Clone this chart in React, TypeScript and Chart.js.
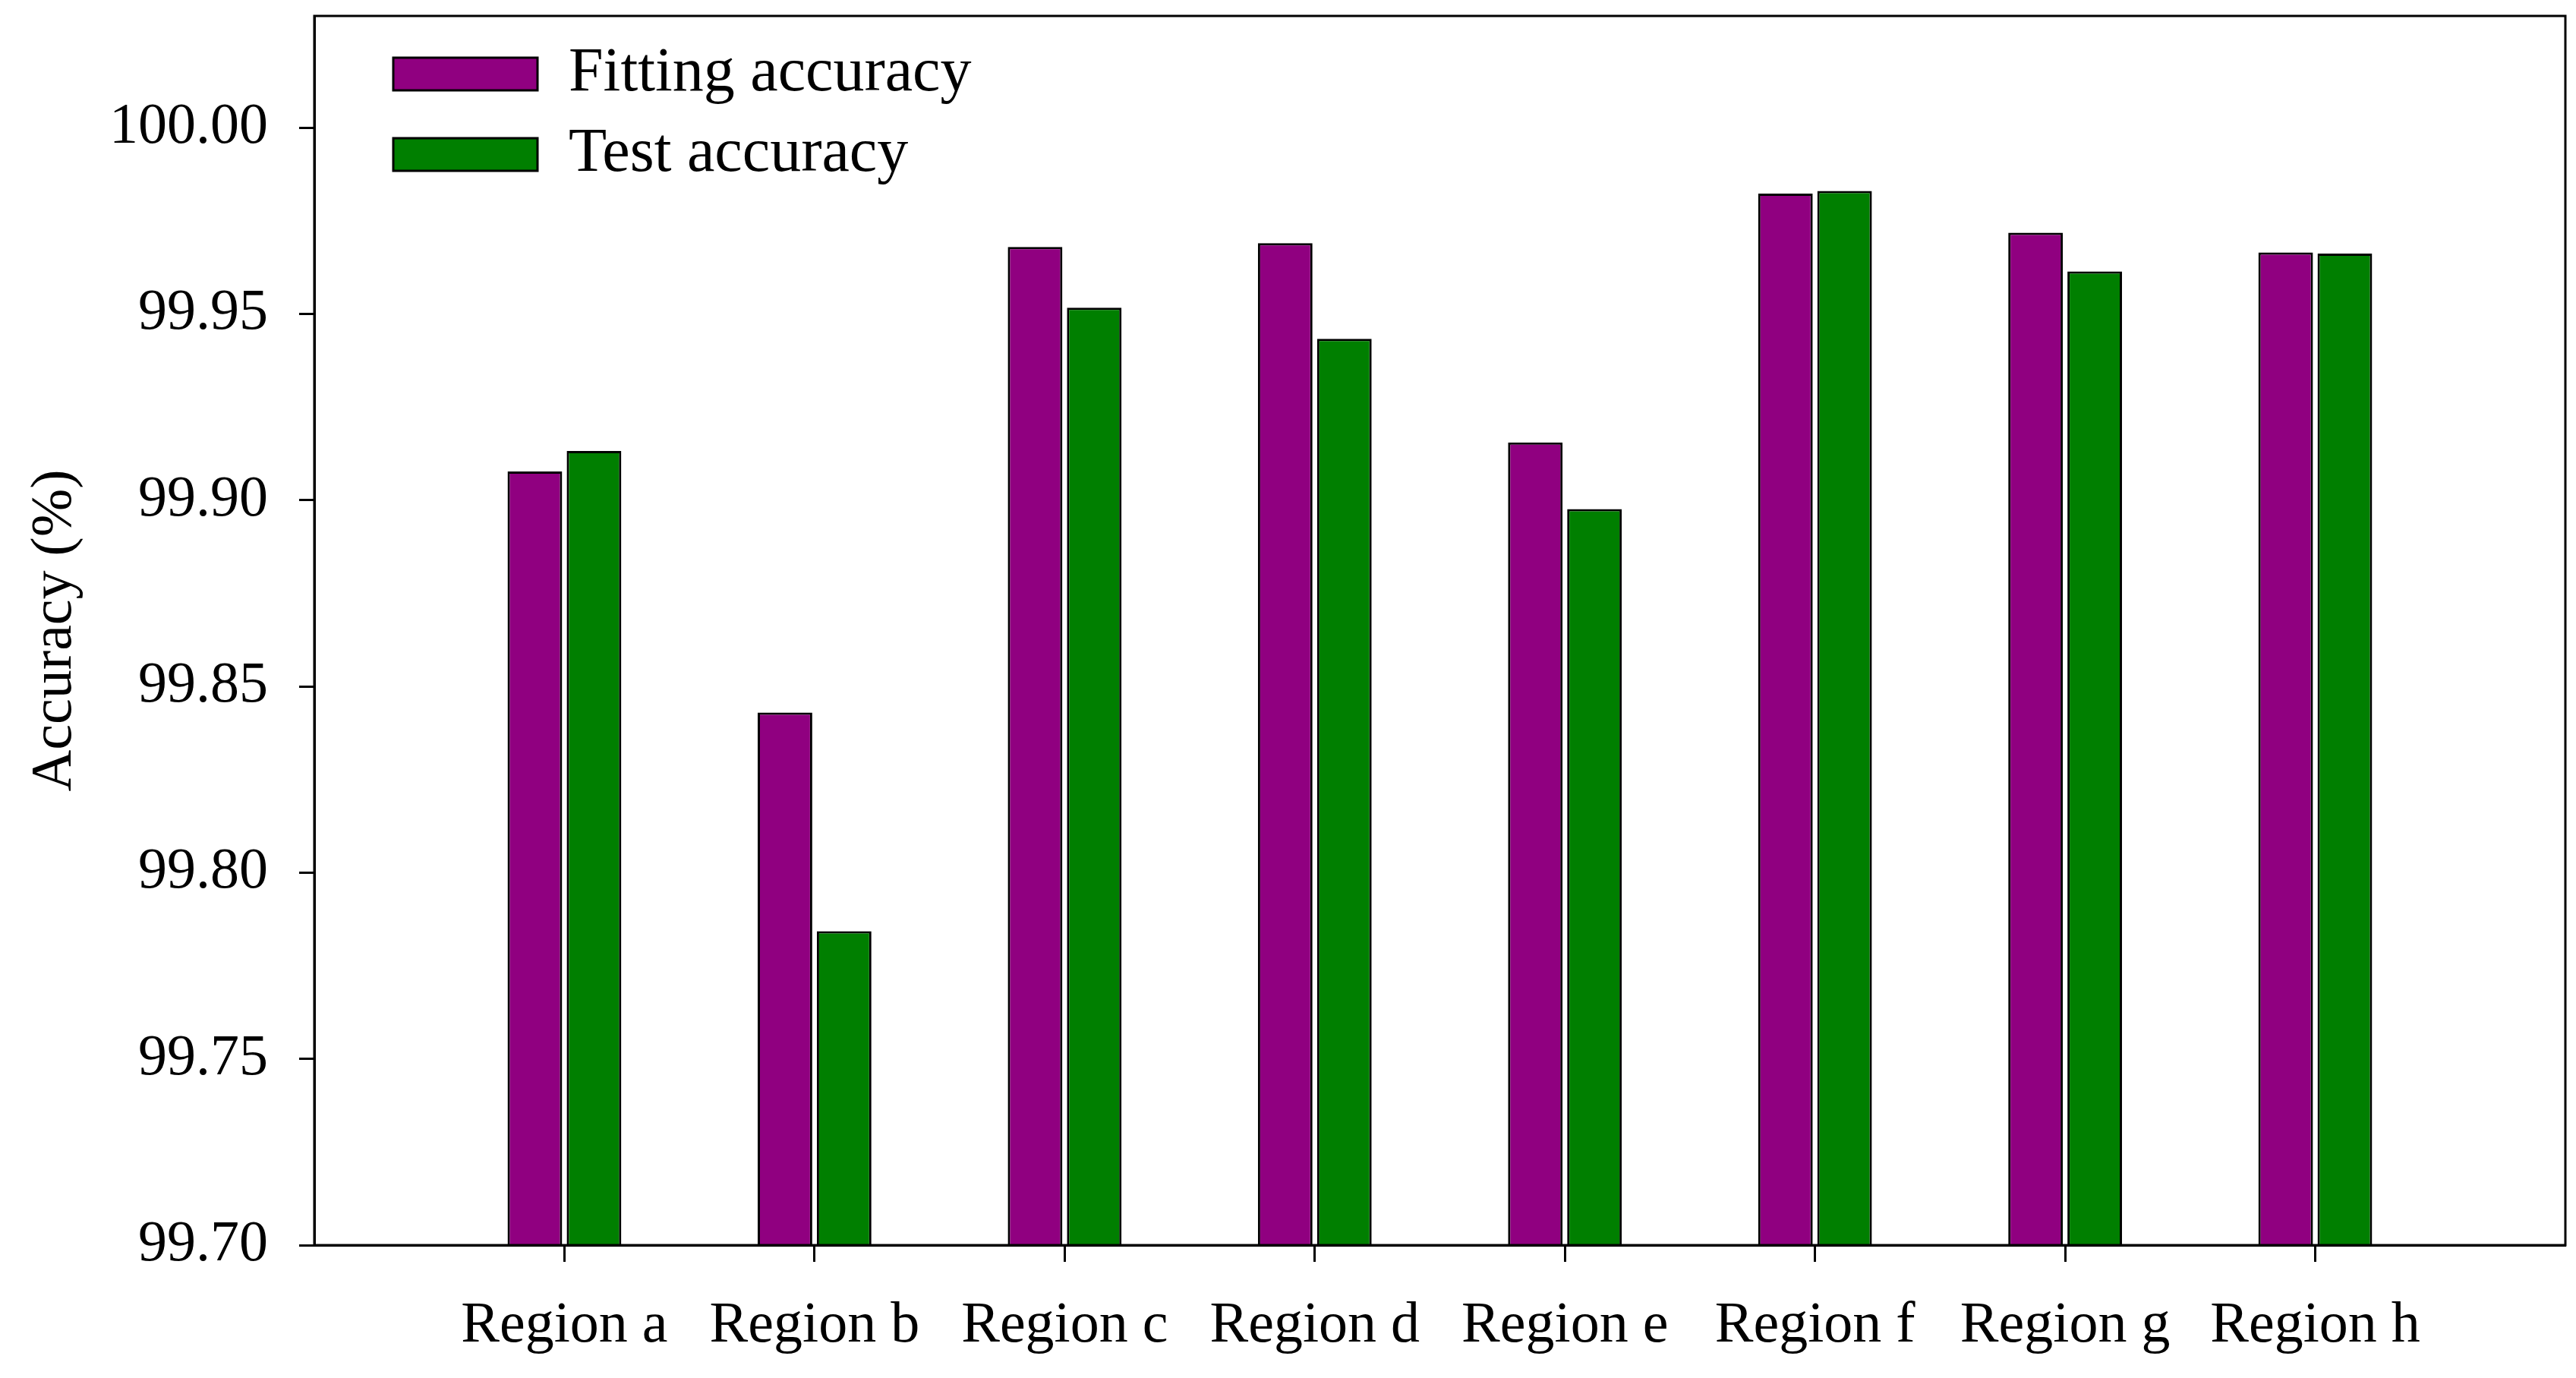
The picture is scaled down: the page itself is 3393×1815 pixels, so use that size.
import React, { useEffect, useRef } from 'react';
import { Chart, registerables } from 'chart.js';

Chart.register(...registerables);

// ---- data ----
const regions = ['Region a', 'Region b', 'Region c', 'Region d', 'Region e', 'Region f', 'Region g', 'Region h'];
const fittingAccuracy = [99.9077, 99.843, 99.968, 99.969, 99.9155, 99.9823, 99.9718, 99.9665];
const testAccuracy = [99.9132, 99.7843, 99.9517, 99.9433, 99.8976, 99.983, 99.9614, 99.9662];
const seriesNames = ['Fitting accuracy', 'Test accuracy'];
const seriesColors = ['#900080', '#007f00'];
const yTickValues = [99.7, 99.75, 99.8, 99.85, 99.9, 99.95, 100.0];
const yMin = 99.7;
const yMax = 100.03;
const regionIndex = regions.map((_, i) => i + 1);

const FONT = "'Liberation Serif', 'Times New Roman', serif";

const framePlugin = {
  id: 'frameAndLegendPlace',
  afterLayout(chart: any) {
    const lg = chart.legend;
    const a = chart.chartArea;
    if (lg && a) {
      lg.left = a.left + 80;
      lg.top = a.top + 11.5;
    }
  },
  afterDatasetsDraw(chart: any) {
    const { ctx, chartArea } = chart;
    const { left, top, right, bottom } = chartArea;
    ctx.save();
    ctx.strokeStyle = '#000';
    ctx.lineWidth = 3;
    ctx.strokeRect(left, top, right - left, bottom - top);
    ctx.restore();
  },
};

export default function App() {
  const canvasRef = useRef<HTMLCanvasElement | null>(null);

  useEffect(() => {
    if (!canvasRef.current) return;
    const mk = (vals: number[]) => vals.map((v, i) => ({ x: regionIndex[i], y: v }));
    const chart = new Chart(canvasRef.current, {
      type: 'bar',
      data: {
        datasets: [
          {
            label: seriesNames[0],
            data: mk(fittingAccuracy),
            backgroundColor: seriesColors[0],
            borderColor: '#000',
            borderWidth: 3,
            categoryPercentage: 0.473,
            barPercentage: 0.923,
          },
          {
            label: seriesNames[1],
            data: mk(testAccuracy),
            backgroundColor: seriesColors[1],
            borderColor: '#000',
            borderWidth: 3,
            categoryPercentage: 0.473,
            barPercentage: 0.923,
          },
        ],
      } as any,
      options: {
        animation: false,
        responsive: true,
        maintainAspectRatio: false,
        layout: { padding: { top: 21, right: 14, left: 0, bottom: 0 } },
        plugins: {
          tooltip: { enabled: false },
          legend: {
            display: true,
            position: 'chartArea' as any,
            align: 'start',
            labels: {
              boxWidth: 190,
              boxHeight: 43,
              padding: 24,
              color: '#000',
              font: { family: FONT, size: 82 },
            },
          },
        },
        scales: {
          x: {
            type: 'linear',
            min: 0,
            max: regions.length + 1,
            bounds: 'data',
            offset: false,
            grid: {
              display: true,
              offset: false,
              drawOnChartArea: false,
              drawTicks: true,
              tickLength: 22,
              tickWidth: 3,
              tickColor: '#000',
            },
            border: { display: true, color: '#000', width: 3 },
            afterBuildTicks: (scale: any) => {
              scale.ticks = regionIndex.map((v) => ({ value: v }));
            },
            ticks: {
              autoSkip: false,
              maxRotation: 0,
              minRotation: 0,
              padding: 39,
              color: '#000',
              font: { family: FONT, size: 76 },
              callback: (v: any) => regions[Math.round(Number(v)) - 1] ?? '',
            },
            afterFit: (scale: any) => {
              scale.height = 175;
              scale.paddingLeft = 0;
              scale.paddingRight = 0;
            },
          },
          y: {
            type: 'linear',
            min: yMin,
            max: yMax,
            bounds: 'data',
            grid: {
              display: true,
              offset: false,
              drawOnChartArea: false,
              drawTicks: true,
              tickLength: 20,
              tickWidth: 3,
              tickColor: '#000',
            },
            border: { display: true, color: '#000', width: 3 },
            afterBuildTicks: (scale: any) => {
              scale.ticks = yTickValues.map((v) => ({ value: v }));
            },
            ticks: {
              padding: 41,
              color: '#000',
              font: { family: FONT, size: 76 },
              callback: (v: any) => Number(v).toFixed(2),
            },
            title: {
              display: true,
              text: 'Accuracy (%)',
              color: '#000',
              font: { family: FONT, size: 76 },
              padding: { top: 27, bottom: 0 },
            },
            afterFit: (scale: any) => {
              scale.width = 414;
              scale.paddingTop = 0;
              scale.paddingBottom = 0;
            },
          },
        },
      } as any,
      plugins: [framePlugin],
    });
    return () => chart.destroy();
  }, []);

  return (
    <div style={{ position: 'fixed', left: 0, top: 0, width: '100vw', height: '100vh', background: '#fff' }}>
      <canvas ref={canvasRef} />
    </div>
  );
}
